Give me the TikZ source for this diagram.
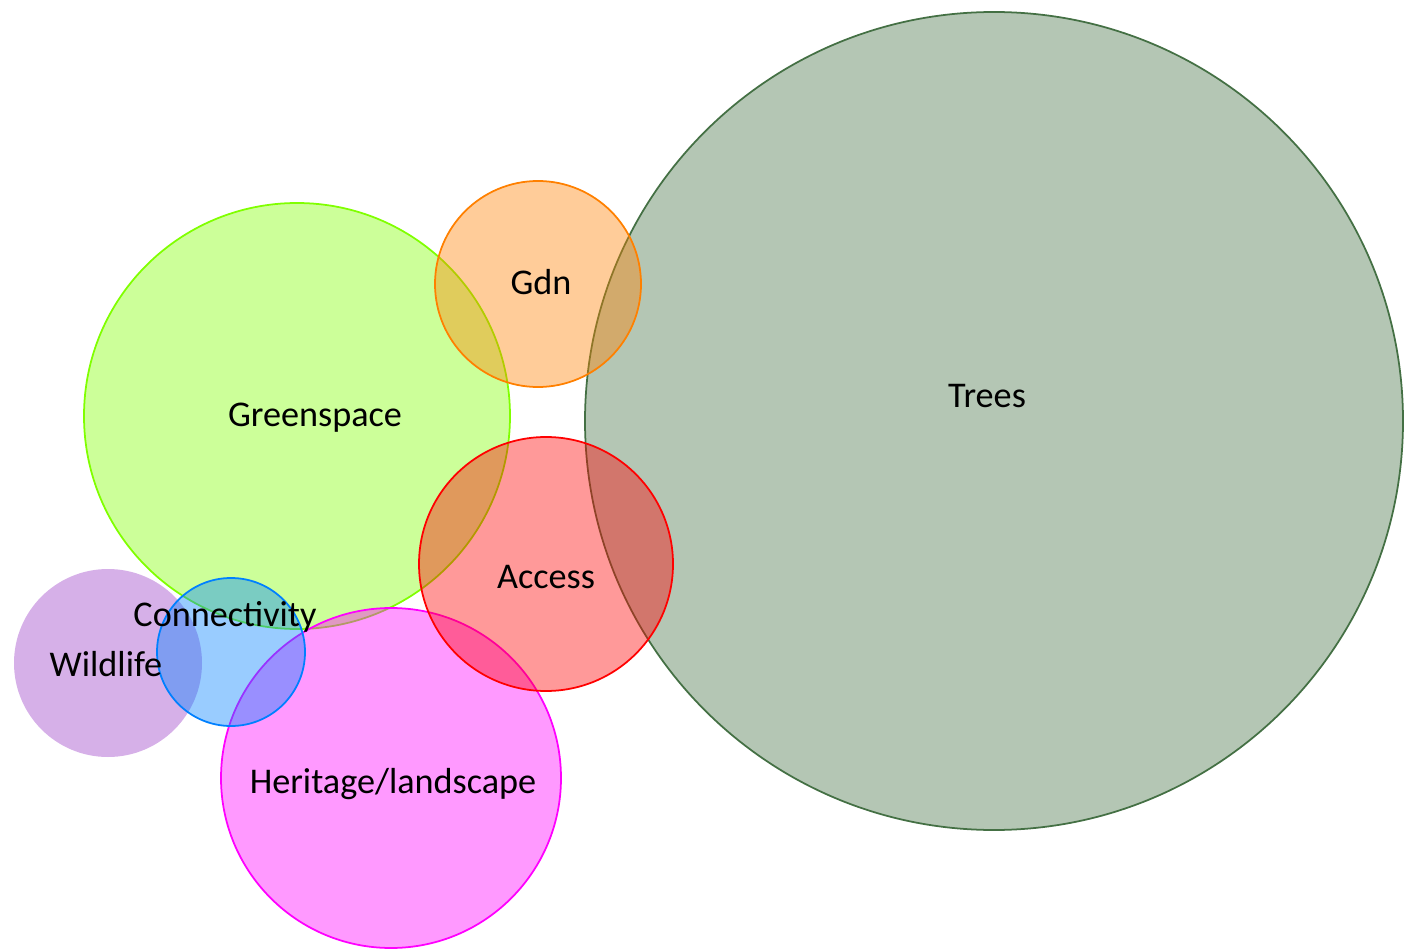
\documentclass[tikz,border=0pt]{standalone}
\usepackage{fontspec}
\setmainfont{Carlito}
\usepackage{tikz}
\usepackage{xcolor}

\definecolor{treesgreen}{RGB}{68,112,68}
\definecolor{gdnorange}{RGB}{255,128,0}
\definecolor{greenlime}{RGB}{128,255,0}
\definecolor{accessred}{RGB}{255,0,0}
\definecolor{connblue}{RGB}{0,128,255}
\definecolor{wildpurple}{RGB}{153,58,198}
\definecolor{heritmagenta}{RGB}{255,0,255}

\begin{document}
\begin{tikzpicture}
    % bubble style
    \tikzstyle{bubble}=[
      line width=1pt,
      fill opacity=0.4
    ]
    \tikzstyle{lbl}=[
      font=\fontsize{20.6}{24}\selectfont,
      text=black
    ]

    \useasboundingbox (0,0) rectangle (28.08,18.98);

    % Big circle on the right
    \filldraw[bubble, draw=treesgreen, fill=treesgreen] (19.88,10.56) circle (8.18);

    % Left group
    \filldraw[bubble, draw=greenlime, fill=greenlime] (5.94,10.66) circle (4.26);
    \fill[bubble, fill=wildpurple] (2.16,5.72) circle (1.88);
    \filldraw[bubble, draw=heritmagenta, fill=heritmagenta] (7.82,3.42) circle (3.40);
    \filldraw[bubble, draw=connblue, fill=connblue] (4.62,5.94) circle (1.48);

    % Middle column
    \filldraw[bubble, draw=gdnorange, fill=gdnorange] (10.76,13.30) circle (2.06);
    \filldraw[bubble, draw=accessred, fill=accessred] (10.92,7.70) circle (2.54);

    % Labels
    \node[lbl] (trees) at (19.74,11.06) {Trees};
    \node[lbl] (gdn) at (10.82,13.34) {Gdn};
    \node[lbl] (green) at (6.30,10.62) {Greenspace};
    \node[lbl] (access) at (10.92,7.44) {Access};
    \node[lbl] (wild) at (2.12,5.70) {Wildlife};
    \node[lbl] (conn) at (4.50,6.64) {Connectivity};
    \node[lbl] (herit) at (7.86,3.30) {Heritage/landscape};
  \end{tikzpicture}
\end{document}
